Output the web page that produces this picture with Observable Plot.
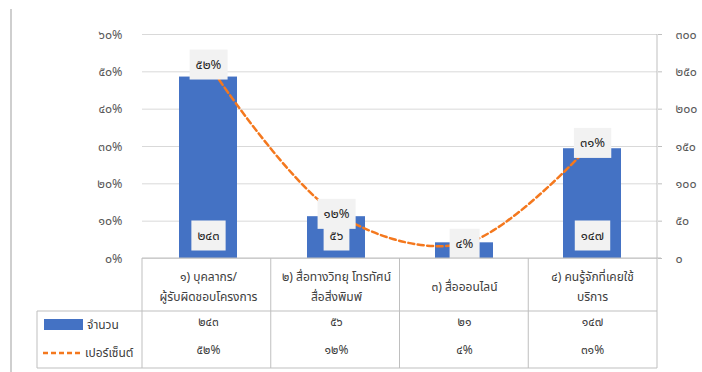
<!DOCTYPE html>
<html><head><meta charset="utf-8">
<script src="https://cdn.jsdelivr.net/npm/d3@7"></script>
<script src="https://cdn.jsdelivr.net/npm/@observablehq/plot@0.6"></script>
<style>
body{margin:0;background:#fff;}
#chart svg{display:block;}
</style>
</head><body><div id="chart"></div>
<script>
// ---- data ----
const categories = ["๑) บุคลากร/\nผู้รับผิดชอบโครงการ", "๒) สื่อทางวิทยุ โทรทัศน์\nสื่อสิ่งพิมพ์", "๓) สื่อออนไลน์", "๔) คนรู้จักที่เคยใช้\nบริการ"];
const counts = [243, 56, 21, 147];
const percents = [52, 12, 4, 31];
const leftTicks = [0, 10, 20, 30, 40, 50, 60];
const rightTicks = [0, 50, 100, 150, 200, 250, 300];
const seriesNames = ["จำนวน", "เปอร์เซ็นต์"];

// ---- helpers ----
const thai = n => String(n).replace(/[0-9]/g, d => "๐๑๒๓๔๕๖๗๘๙"[d]);
const ratio = 60 / 300; // left-axis % per right-axis count unit
const data = categories.map((c, i) => ({cat: c, count: counts[i], pct: percents[i]}));
// bar labels that would be hidden behind the line label (bar too short) are not shown, as in the reference
const barLabels = data.filter(d => d.count * ratio >= 8);

const FONT = 'Tahoma, "Leelawadee UI", "Noto Sans Thai", "Noto Sans", sans-serif';
const W = 702, H = 372, ML = 142, MR = 45, MT = 34, MB = 114;

const chart = Plot.plot({
  width: W, height: H,
  marginLeft: ML, marginRight: MR, marginTop: MT, marginBottom: MB,
  style: {fontFamily: FONT, fontSize: "12px", background: "#fff", overflow: "visible"},
  x: {domain: categories, paddingInner: 0.55, paddingOuter: 0.275, axis: null},
  y: {domain: [0, 60], axis: null},
  marks: [
    Plot.gridY(leftTicks, {stroke: "#d9d9d9", strokeOpacity: 1}),
    Plot.axisY({anchor: "left", ticks: leftTicks, tickSize: 0, tickPadding: 20,
      tickFormat: d => thai(d) + "%", fill: "#595959", fontSize: 12.5, label: null}),
    Plot.axisY({anchor: "right", ticks: rightTicks.map(v => v * ratio), tickSize: 4, tickPadding: 14,
      stroke: "#bfbfbf", tickFormat: d => thai(Math.round(d / ratio)), fill: "#595959", fontSize: 12.5, label: null}),
    Plot.barY(data, {x: "cat", y: d => d.count * ratio, fill: "#4472C4"}),
    Plot.line(data, {x: "cat", y: "pct", curve: "catmull-rom", stroke: "#F4781E",
      strokeWidth: 2.5, strokeDasharray: "6,3.5"}),
    Plot.text(barLabels, {x: "cat", frameAnchor: "bottom", dy: -19, text: d => thai(d.count),
      fill: "#262626", fontSize: 13, ariaDescription: "boxlabel"}),
    Plot.text(data, {x: "cat", y: "pct", text: d => thai(d.pct) + "%",
      fill: "#262626", fontSize: 13, ariaDescription: "boxlabel"}),
    // table: category header row
    Plot.text(data, {x: "cat", frameAnchor: "bottom", dy: 26, text: "cat", lineHeight: 1.7,
      lineAnchor: "middle", fill: "#404040", fontSize: 12}),
    // table: value rows
    Plot.text(data, {x: "cat", frameAnchor: "bottom", dy: 67, text: d => thai(d.count), fill: "#404040", fontSize: 12}),
    Plot.text(data, {x: "cat", frameAnchor: "bottom", dy: 95, text: d => thai(d.pct) + "%", fill: "#404040", fontSize: 12})
  ]
});
document.getElementById("chart").appendChild(chart);

// boxed data labels
d3.select(chart).selectAll('g[aria-description="boxlabel"] text').each(function() {
  const b = this.getBBox();
  const cy = b.y + b.height / 2;
  d3.select(this.parentNode).insert("rect", () => this)
    .attr("transform", this.getAttribute("transform"))
    .attr("x", b.x - 6).attr("width", b.width + 12)
    .attr("y", cy - 15).attr("height", 30)
    .attr("fill", "#f2f2f2");
});

// table lines, right axis line, legend keys
const svg = d3.select(chart);
const xs = chart.scale("x");
const [x0, x1] = xs.range;
const colW = (x1 - x0) / categories.length;
const yBase = H - MB, yHead = yBase + 53, yBot = yBase + 110;
const g = svg.append("g").attr("stroke", "#bfbfbf").attr("stroke-width", 1);
g.append("line").attr("x1", x1).attr("x2", x1).attr("y1", MT).attr("y2", yBase);
g.append("line").attr("x1", x0).attr("x2", x1 + 4).attr("y1", yBase).attr("y2", yBase);
for (let i = 0; i <= categories.length; i++) {
  const x = x0 + i * colW;
  g.append("line").attr("x1", x).attr("x2", x).attr("y1", yBase).attr("y2", yBot);
}
g.append("line").attr("x1", 37).attr("x2", x1).attr("y1", yHead).attr("y2", yHead);
g.append("line").attr("x1", 37).attr("x2", x1).attr("y1", yBot).attr("y2", yBot);
g.append("line").attr("x1", 37).attr("x2", 37).attr("y1", yHead).attr("y2", yBot);
// left chart border
svg.append("line").attr("x1", 11).attr("x2", 11).attr("y1", 9).attr("y2", H)
  .attr("stroke", "#bfbfbf").attr("stroke-width", 1.5);
// legend keys
const rowY = [yBase + 67, yBase + 95];
svg.append("rect").attr("x", 44).attr("y", rowY[0] - 6).attr("width", 39).attr("height", 11).attr("fill", "#4472C4");
svg.append("line").attr("x1", 43).attr("x2", 83).attr("y1", rowY[1]).attr("y2", rowY[1])
  .attr("stroke", "#F4781E").attr("stroke-width", 2.5).attr("stroke-dasharray", "5,3");
svg.append("text").attr("x", 87).attr("y", rowY[0]).attr("dy", "0.32em").attr("text-anchor", "start")
  .text(seriesNames[0]).attr("fill", "#404040").style("font-size", "12px");
svg.append("text").attr("x", 85).attr("y", rowY[1]).attr("dy", "0.32em").attr("text-anchor", "start")
  .text(seriesNames[1]).attr("fill", "#404040").style("font-size", "12px");
</script>
</body></html>
